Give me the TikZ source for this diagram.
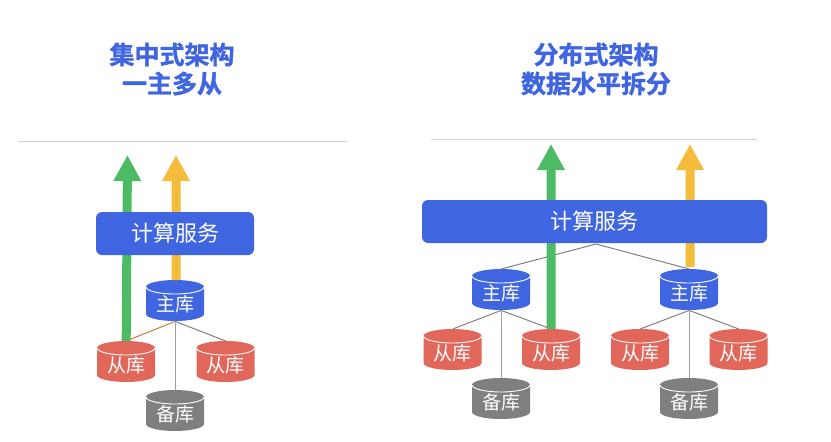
\documentclass[tikz,border=0pt]{standalone}
\usepackage{fontspec}
\setmainfont{Noto Sans CJK SC}
\newfontfamily\titlefont[FakeBold=1.6]{Noto Sans CJK SC Bold}
\usetikzlibrary{arrows.meta}
\definecolor{bluec}{HTML}{3F65E0}
\definecolor{greenc}{HTML}{4DBB63}
\definecolor{yellowc}{HTML}{F5BB3B}
\definecolor{redc}{HTML}{E0675A}
\definecolor{greyc}{HTML}{7F7F7F}
\definecolor{linec}{HTML}{808080}
\definecolor{rulec}{HTML}{CFCFCF}
\tikzset{
  titletext/.style={text=bluec,font=\titlefont\fontsize{25}{29}\selectfont,align=center,inner sep=0pt},
  svc/.style={fill=bluec,rounded corners=6pt,text=white,font=\fontsize{22}{24}\selectfont,inner sep=0pt},
  dbtext/.style={minimum width=58pt,minimum height=41pt,inner sep=0pt,text=white,font=\fontsize{19}{20}\selectfont},
  link/.style={draw=linec,line width=1pt},
  drop/.style={draw=linec!75,line width=1.3pt},
  flow/.style={line width=9pt,-{Triangle[length=26pt,width=26pt]}},
}
% \dbnode{name}{left x}{top y}{colour}{label}
\newcommand{\dbnode}[5]{%
  \fill[#4] (#2,#3+7) arc[start angle=180,end angle=360,x radius=29,y radius=7]
    -- (#2+58,#3+34) arc[start angle=0,end angle=180,x radius=29,y radius=7] -- cycle;
  \draw[white,line width=.9pt] (#2,#3+7) arc[start angle=180,end angle=0,x radius=29,y radius=7];
  \node[dbtext,anchor=north west] (#1) at (#2,#3) {\raisebox{-10.5pt}[0pt][0pt]{#5}};
}
\begin{document}
\begin{tikzpicture}[x=1pt,y=-1pt]
\useasboundingbox (0,0) rectangle (831,442);
\node[titletext] (t1) at (172,69) {集中式架构\\一主多从};
\node[titletext] (t2) at (596,69) {分布式架构\\数据水平拆分};
\coordinate (r1a) at (18,141); \coordinate (r1b) at (347,141);
\coordinate (r2a) at (431,139); \coordinate (r2b) at (757,139);
\draw[rulec,line width=1pt] (r1a) -- (r1b);
\draw[rulec,line width=.7pt] (r2a) -- (r2b);
% positions of the service boxes, drawn after the flows
\coordinate (c1) at (175,233.5);
\coordinate (c2) at (594.5,221.5);
\coordinate (c2s) at (596,244);
% database nodes, left
\dbnode{m1}{146}{280}{bluec}{主库}
\dbnode{s1}{97}{341}{redc}{从库}
\dbnode{s2}{196.5}{341}{redc}{从库}
\dbnode{b1}{146}{390}{greyc}{备库}
% database nodes, right
\dbnode{m2}{472}{269}{bluec}{主库}
\dbnode{m3}{660}{269}{bluec}{主库}
\dbnode{s3}{423.5}{329}{redc}{从库}
\dbnode{s4}{522}{329}{redc}{从库}
\dbnode{s5}{611}{329}{redc}{从库}
\dbnode{s6}{709.5}{329}{redc}{从库}
\dbnode{b2}{472}{378}{greyc}{备库}
\dbnode{b3}{660}{378}{greyc}{备库}
% connectors
\draw[draw=orange!60!linec,line width=1pt] (m1.south) -- (s1.north);
\draw[link] (m1.south) -- (s2.north);
\draw[drop] (m1.south) -- (b1.north);
\draw[link] (c2s) -- (m2.north);
\draw[link] (c2s) -- (m3.north);
\draw[link] (m2.south) -- (s3.north);
\draw[link] (m2.south) -- (s4.north);
\draw[drop] (m2.south) -- (b2.north);
\draw[link] (m3.south) -- (s5.north);
\draw[link] (m3.south) -- (s6.north);
\draw[drop] (m3.south) -- (b3.north);
% flows
\coordinate (g1) at (127.5,155); \coordinate (y1) at (176,155);
\coordinate (g2) at (551,144); \coordinate (y2) at (690,144);
\draw[flow,greenc] (s1.north) -- (g1);
\draw[flow,yellowc] (m1.north) ++(1,0) -- (y1);
\draw[flow,greenc] (s4.north) -- (g2);
\draw[flow,yellowc] (m3.north) ++(1,-2) -- (y2);
% service boxes on top of the flows
\node[minimum width=158pt,minimum height=43pt,svc] (n1) at (c1) {计算服务};
\node[minimum width=345pt,minimum height=43pt,svc] (n2) at (c2) {计算服务};
\end{tikzpicture}
\end{document}
